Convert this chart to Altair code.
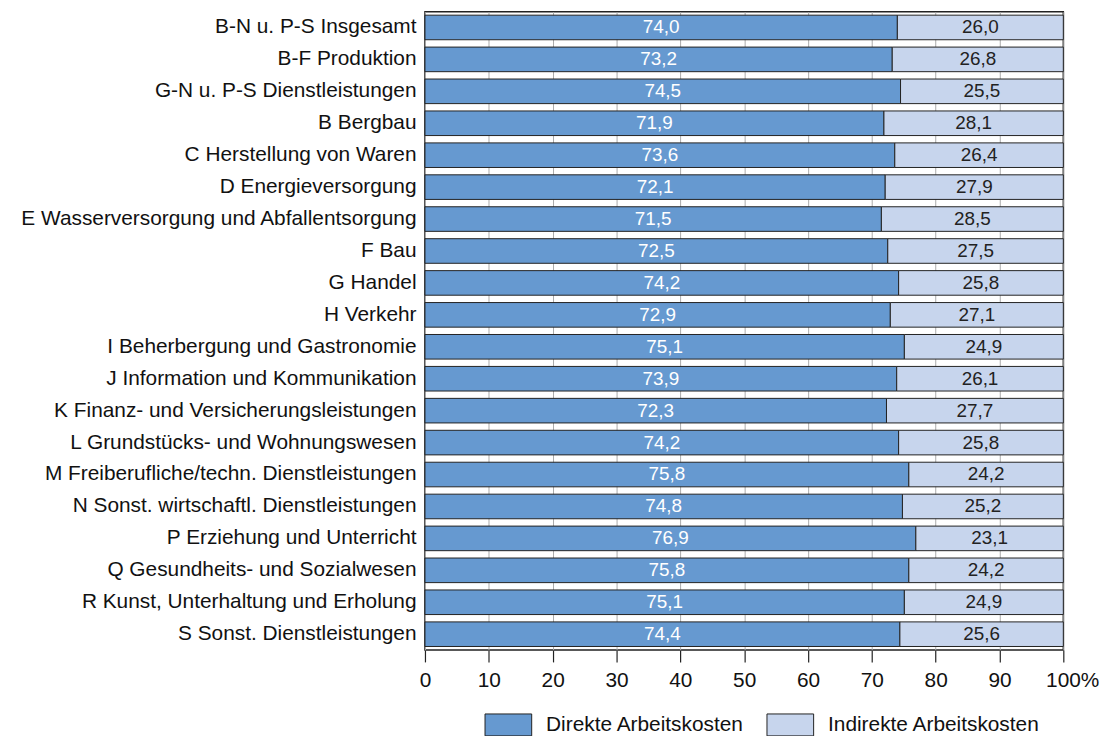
import altair as alt
import pandas as pd

categories = [
    "B-N u. P-S Insgesamt",
    "B-F Produktion",
    "G-N u. P-S Dienstleistungen",
    "B Bergbau",
    "C Herstellung von Waren",
    "D Energieversorgung",
    "E Wasserversorgung und Abfallentsorgung",
    "F Bau",
    "G Handel",
    "H Verkehr",
    "I Beherbergung und Gastronomie",
    "J Information und Kommunikation",
    "K Finanz- und Versicherungsleistungen",
    "L Grundstücks- und Wohnungswesen",
    "M Freiberufliche/techn. Dienstleistungen",
    "N Sonst. wirtschaftl. Dienstleistungen",
    "P Erziehung und Unterricht",
    "Q Gesundheits- und Sozialwesen",
    "R Kunst, Unterhaltung und Erholung",
    "S Sonst. Dienstleistungen",
]
direkte = [74.0, 73.2, 74.5, 71.9, 73.6, 72.1, 71.5, 72.5, 74.2, 72.9,
           75.1, 73.9, 72.3, 74.2, 75.8, 74.8, 76.9, 75.8, 75.1, 74.4]
indirekte = [26.0, 26.8, 25.5, 28.1, 26.4, 27.9, 28.5, 27.5, 25.8, 27.1,
             24.9, 26.1, 27.7, 25.8, 24.2, 25.2, 23.1, 24.2, 24.9, 25.6]
series = ["Direkte Arbeitskosten", "Indirekte Arbeitskosten"]
colors = ["#6699D0", "#C7D5ED"]
x_ticks = [0, 10, 20, 30, 40, 50, 60, 70, 80, 90, 100]

rows = []
for c, d, i in zip(categories, direkte, indirekte):
    rows.append({"cat": c, "art": series[0], "ord": 0, "value": d,
                 "label": f"{d:.1f}".replace(".", ",")})
    rows.append({"cat": c, "art": series[1], "ord": 1, "value": i,
                 "label": f"{i:.1f}".replace(".", ",")})
df = pd.DataFrame(rows)

FONT = "Liberation Sans"

y_enc = alt.Y("cat:N", sort=categories, title=None,
              scale=alt.Scale(paddingInner=0.23, paddingOuter=0.11),
              axis=alt.Axis(ticks=False, domain=False, labelFontSize=21,
                            labelPadding=9, labelColor="#111", labelFont=FONT,
                            labelLimit=600))

base = alt.Chart(df).transform_stack(
    stack="value", groupby=["cat"], as_=["x0", "x1"],
    sort=[alt.SortField("ord", order="ascending")]
).transform_calculate(mid="(datum.x0 + datum.x1) / 2")

bars = base.mark_bar(stroke="#222", strokeWidth=1).encode(
    x=alt.X("x0:Q", title=None,
            scale=alt.Scale(domain=[0, 100], nice=False),
            axis=alt.Axis(values=x_ticks, labelFontSize=21, labelFont=FONT,
                          labelColor="#111", tickColor="#222", tickSize=12,
                          tickWidth=1.2, domain=False, grid=True,
                          gridColor="#aaa", gridWidth=1,
                          labelPadding=8, labelFlush=False,
                          labelExpr="datum.value == 100 ? '100%' : datum.label",
                          labelOffset=alt.ExprRef("datum.value == 100 ? 9 : 0"))),
    x2="x1:Q",
    y=y_enc,
    color=alt.Color("art:N", scale=alt.Scale(domain=series, range=colors),
                    legend=alt.Legend(title=None, orient="none",
                                      legendX=60, legendY=694,
                                      direction="horizontal",
                                      symbolType="M-1,-0.47H1V0.47H-1Z",
                                      symbolSize=2209, symbolStrokeColor="#222",
                                      symbolStrokeWidth=1, symbolOpacity=1,
                                      labelFontSize=21, labelFont=FONT,
                                      labelColor="#111", labelOffset=14,
                                      labelLimit=400,
                                      columnPadding=20)),
)

txt = base.mark_text(fontSize=19, font=FONT).encode(
    x=alt.X("mid:Q"),
    y=alt.Y("cat:N", sort=categories),
    text="label:N",
    color=alt.Color("art:N", scale=alt.Scale(domain=series, range=["#ffffff", "#222222"]),
                    legend=None),
)

chart = alt.layer(bars, txt).resolve_scale(color="independent").properties(
    width=643, height=643,
    autosize=alt.AutoSizeParams(type="none"),
    padding={"left": 420, "top": 1, "right": 44, "bottom": 90},
).configure_view(stroke="#222", strokeWidth=1.5)

chart.save("out.html", embed_options={"renderer": "svg", "actions": False})
